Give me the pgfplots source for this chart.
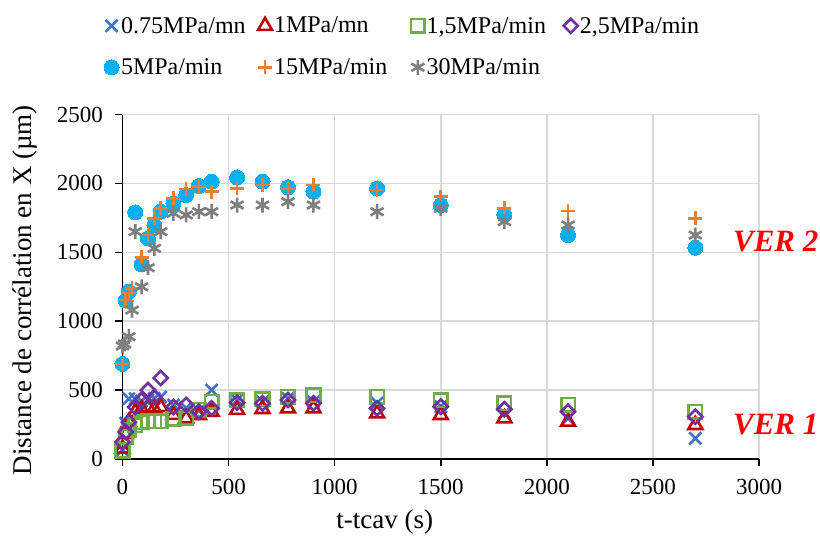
\documentclass[border=0pt]{standalone}
\usepackage{fontspec}
\setmainfont{Liberation Serif}
\usepackage{pgfplots}
\pgfplotsset{compat=1.18}
\definecolor{cBlue}{HTML}{4472C4}
\definecolor{cRed}{HTML}{C00000}
\definecolor{cGreen}{HTML}{70AD47}
\definecolor{cPurple}{HTML}{7030A0}
\definecolor{cCyan}{HTML}{00B0F0}
\definecolor{cOrange}{HTML}{ED7D31}
\definecolor{cGrey}{HTML}{7F7F7F}
\definecolor{cGrid}{HTML}{D9D9D9}
\newcommand{\lf}{\fontsize{23}{27}\selectfont}
\begin{document}
\begin{tikzpicture}
\begin{axis}[
  scale only axis,
  width=636.5pt, height=344.5pt,
  xmin=0, xmax=3000, ymin=0, ymax=2500,
  xtick={0,500,...,3000}, ytick={0,500,...,2500},
  axis x line*=bottom, axis y line*=left,
  axis line style={-, line width=1.6pt, black},
  tick align=outside, major tick length=7pt,
  tick style={line width=1.6pt, black},
  grid=major, major grid style={line width=1.6pt, cGrid},
  /pgf/number format/assume math mode=true,
  /pgf/number format/1000 sep={},
  tick label style={font=\lf},
  xticklabel style={yshift=-10pt},
  yticklabel style={xshift=-9pt},
  xlabel={t-tcav (s)}, ylabel={Distance de corrélation en X (µm)},
  label style={font=\fontsize{27}{31}\selectfont},
  xlabel style={at={(axis description cs:0.412,-0.183)}, anchor=center},
  ylabel style={at={(axis description cs:-0.153,0.49)}, anchor=center},
  clip=false,
  legend columns=4,
  legend style={draw=none, fill=none, font=\fontsize{24}{28}\selectfont, at={(axis description cs:-0.034,1.295)}, anchor=north west,
    /tikz/every odd column/.append style={column sep=0pt}, row sep=20pt},
  legend cell align=left,
  legend image code/.code={\draw[mark repeat=2,mark phase=2,#1] plot coordinates {(0pt,0pt) (8pt,0pt) (16pt,0pt)};},
  every axis plot/.append style={only marks},
]
% 0.75 MPa/mn
\addplot[color=cBlue, mark=x, mark size=8.5pt, mark options={line width=2.6pt}] coordinates {
(0,65) (15,260) (30,437) (60,437) (90,420) (120,430) (150,440) (180,450) (240,392) (300,370) (360,350) (420,500) (540,428) (660,416) (780,440) (900,416) (1200,406) (1500,380) (1800,333) (2100,295) (2700,150)};
\addlegendentry{\makebox[135pt][l]{0.75MPa/mn}}
% 1 MPa/mn
\addplot[color=cRed, mark=triangle, mark size=8pt, mark options={line width=2.6pt}] coordinates {
(0,75) (15,180) (30,268) (60,341) (90,360) (120,377) (150,365) (180,377) (240,320) (300,295) (360,319) (420,343) (540,356) (660,363) (780,368) (900,368) (1200,331) (1500,319) (1800,295) (2100,271) (2700,247)};
\addlegendentry{\makebox[135pt][l]{1MPa/mn}}
% 1,5 MPa/min
\addplot[color=cGreen, mark=square, mark size=6.8pt, mark options={line width=2.6pt}] coordinates {
(0,60) (15,160) (30,208) (60,245) (90,268) (120,273) (150,273) (180,273) (240,292) (300,295) (360,356) (420,416) (540,428) (660,433) (780,452) (900,464) (1200,452) (1500,428) (1800,404) (2100,392) (2700,343)};
\addlegendentry{\makebox[135pt][l]{1,5MPa/min}}
% 2,5 MPa/min
\addplot[color=cPurple, mark=square, mark size=5pt, mark options={rotate=45, line width=2.6pt}] coordinates {
(0,123) (15,196) (30,268) (60,377) (90,426) (120,500) (150,450) (180,588) (240,377) (300,392) (360,343) (420,368) (540,409) (660,404) (780,428) (900,404) (1200,368) (1500,380) (1800,361) (2100,343) (2700,307)};
\addlegendentry{2,5MPa/min}
% 5 MPa/min
\addplot[color=cCyan, mark=*, mark size=7.5pt, mark options={draw=cCyan, fill=cCyan, line width=0pt}] coordinates {
(0,690) (15,1150) (30,1215) (60,1790) (90,1413) (120,1601) (150,1698) (180,1795) (240,1855) (300,1916) (360,1981) (420,2012) (540,2044) (660,2012) (780,1972) (900,1940) (1200,1964) (1500,1843) (1800,1771) (2100,1625) (2700,1533)};
\addlegendentry{\makebox[135pt][l]{5MPa/min}}
% 15 MPa/min
\addplot[color=cOrange, mark=+, mark size=7pt, mark options={line width=2.6pt}] coordinates {
(0,690) (15,1154) (30,1205) (45,1239) (90,1464) (120,1626) (150,1747) (180,1819) (240,1892) (300,1959) (360,1976) (420,1940) (540,1964) (660,1988) (780,1964) (900,1988) (1200,1952) (1500,1903) (1800,1819) (2100,1800) (2700,1747)};
\addlegendentry{\makebox[135pt][l]{15MPa/min}}
% 30 MPa/min
\addplot[color=cGrey, mark=asterisk, mark size=7.5pt, mark options={line width=2.6pt}] coordinates {
(0,820) (10,835) (30,888) (45,1081) (60,1650) (90,1250) (120,1388) (150,1529) (180,1650) (240,1783) (300,1771) (360,1795) (420,1795) (540,1843) (660,1843) (780,1867) (900,1843) (1200,1795) (1500,1819) (1800,1722) (2100,1698) (2700,1625)};
\addlegendentry{30MPa/min}
\node[anchor=west, text=red, font=\fontsize{31}{35}\selectfont\bfseries\itshape, inner sep=0pt] at (axis cs:2877,1575) {VER 2};
\node[anchor=west, text=red, font=\fontsize{31}{35}\selectfont\bfseries\itshape, inner sep=0pt] at (axis cs:2877,247) {VER 1};
\end{axis}
\pgfresetboundingbox
\path (-122.5pt,-83pt) rectangle (697.5pt,459pt);
\end{tikzpicture}
\end{document}
